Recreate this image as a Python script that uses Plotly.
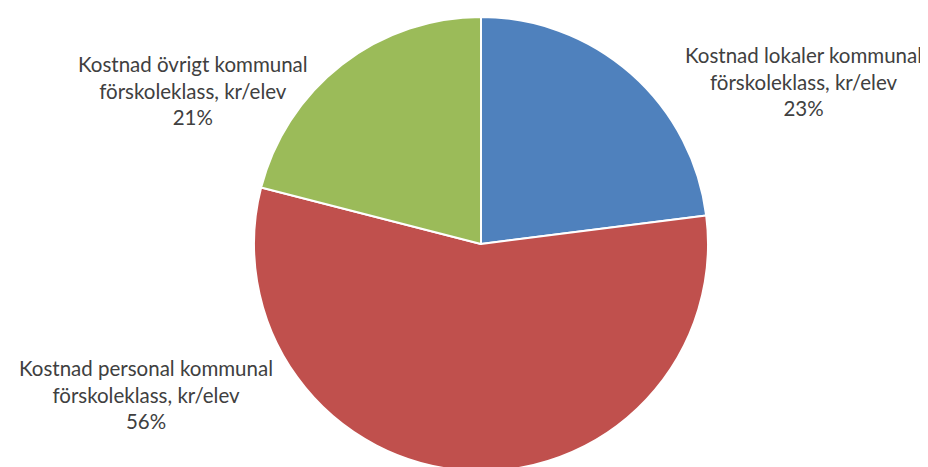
import plotly.graph_objects as go

categories = [
    "Kostnad lokaler kommunal förskoleklass, kr/elev",
    "Kostnad personal kommunal förskoleklass, kr/elev",
    "Kostnad övrigt kommunal förskoleklass, kr/elev",
]
label_lines = [
    ["Kostnad lokaler kommunal", "förskoleklass, kr/elev"],
    ["Kostnad personal kommunal", "förskoleklass, kr/elev"],
    ["Kostnad övrigt kommunal", "förskoleklass, kr/elev"],
]
values = [23, 56, 21]
colors = ["#4F81BD", "#C0504D", "#9BBB59"]

W, H = 928, 467
CX, CY, R = 473, 236, 227  # pie centre / half-size in figure pixels

fig = go.Figure()
fig.add_trace(go.Pie(
    labels=categories,
    values=values,
    sort=False,
    direction="clockwise",
    rotation=0,
    marker=dict(colors=colors, line=dict(color="white", width=2)),
    textinfo="none",
    hoverinfo="label+percent",
    showlegend=False,
    domain=dict(x=[(CX - R) / W, (CX + R) / W],
                y=[(H - CY - R) / H, (H - CY + R) / H]),
))

# label anchor positions (figure pixels: center x, center y)
label_pos = [(795, 74), (138, 386), (185, 82)]
total = sum(values)
for lines, v, (px, py) in zip(label_lines, values, label_pos):
    text = "<br>".join(lines + [f"{round(100 * v / total)}%"])
    fig.add_annotation(
        x=px / W, y=1 - py / H, xref="paper", yref="paper",
        text=text, showarrow=False, xanchor="center", yanchor="middle",
        align="center",
        font=dict(family="Lato", size=20.5, color="#404040"),
    )

fig.update_layout(
    width=W, height=H,
    margin=dict(l=0, r=0, t=0, b=0),
    paper_bgcolor="white",
    plot_bgcolor="white",
)
fig.write_html("out.html")
